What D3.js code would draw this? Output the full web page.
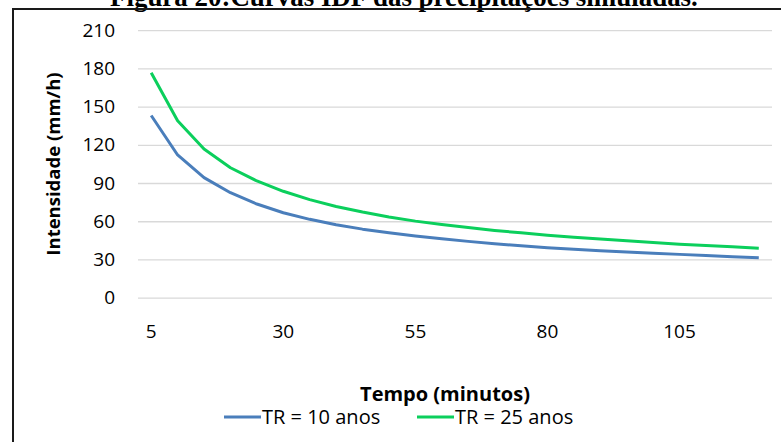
<!DOCTYPE html>
<html>
<head>
<meta charset="utf-8">
<script src="https://cdn.jsdelivr.net/npm/d3@7"></script>
<style>
  html, body { margin: 0; padding: 0; background: #fff; }
  svg { display: block; }
</style>
</head>
<body>
<svg id="chart" width="781" height="442"></svg>
<script>
// Duration categories (minutes)
const durations = [5, 10, 15, 20, 25, 30, 35, 40, 45, 50, 55, 60,
                   65, 70, 75, 80, 85, 90, 95, 100, 105, 110, 115, 120];
// Rainfall intensity (mm/h) for each return period
const tr10 = [143.0, 112.0, 94.2, 82.4, 73.5, 66.7, 61.5, 57.2, 53.8, 51.0, 48.4, 46.2,
              44.2, 42.3, 40.7, 39.2, 38.0, 36.9, 35.8, 34.9, 34.0, 33.2, 32.2, 31.3];
const tr25 = [176.6, 138.9, 116.7, 102.0, 91.6, 83.5, 77.0, 71.6, 67.2, 63.4, 60.1, 57.4,
              55.0, 52.8, 50.9, 49.0, 47.5, 46.0, 44.7, 43.4, 42.0, 40.9, 39.9, 38.8];
const yTicks = [0, 30, 60, 90, 120, 150, 180, 210];
const xTickLabels = [5, 30, 55, 80, 105];
const seriesNames = ["TR = 10 anos", "TR = 25 anos"];
const seriesColors = ["#4a7ebb", "#0bcf5c"];

const svg = d3.select("#chart");
const sansFont = "'Open Sans', Lato, sans-serif";

// Caption above the chart frame
const caption = svg.append("text")
  .attr("x", 110).attr("y", 6)
  .attr("font-family", "'Liberation Serif', 'Times New Roman', serif")
  .attr("font-weight", "bold")
  .attr("font-size", 20)
  .attr("fill", "#000")
  .text("Figura 20:Curvas IDF das precipitações simuladas.");
const capLen = caption.node().getComputedTextLength();
caption.attr("font-size", 20 * 588 / capLen);

// Chart frame
svg.append("rect")
  .attr("x", 13).attr("y", 9)
  .attr("width", 800).attr("height", 460)
  .attr("fill", "none")
  .attr("stroke", "#1a1a1a")
  .attr("stroke-width", 2);

const plot = { left: 138, right: 772, top: 30.1, bottom: 297.7 };

const x = d3.scaleBand()
  .domain(durations)
  .range([plot.left, plot.right])
  .paddingInner(0).paddingOuter(0);
const cx = d => x(d) + x.bandwidth() / 2;

const y = d3.scaleLinear()
  .domain([0, 210])
  .range([plot.bottom, plot.top]);

// Horizontal gridlines and value labels
const yAxis = svg.append("g")
  .attr("transform", `translate(${plot.left},0)`)
  .call(d3.axisLeft(y)
    .tickValues(yTicks)
    .tickSize(-(plot.right - plot.left))
    .tickPadding(23));
yAxis.select(".domain").remove();
yAxis.selectAll(".tick line")
  .attr("stroke", "#d9d9d9")
  .attr("stroke-width", 1.3);
yAxis.selectAll(".tick text")
  .attr("font-family", sansFont)
  .attr("font-size", 19)
  .attr("fill", "#000");

// Duration labels
const xAxis = svg.append("g")
  .attr("transform", `translate(0,${plot.bottom})`)
  .call(d3.axisBottom(x)
    .tickValues(xTickLabels)
    .tickSize(0)
    .tickPadding(27));
xAxis.select(".domain").remove();
xAxis.selectAll(".tick text")
  .attr("font-family", sansFont)
  .attr("font-size", 19)
  .attr("fill", "#000");

// Intensity curves
const line = d3.line()
  .x((d, i) => cx(durations[i]))
  .y(d => y(d));

[tr10, tr25].forEach((vals, k) => {
  svg.append("path")
    .datum(vals)
    .attr("d", line)
    .attr("fill", "none")
    .attr("stroke", seriesColors[k])
    .attr("stroke-width", 3)
    .attr("stroke-linejoin", "round");
});

// Axis titles
svg.append("text")
  .attr("transform", "translate(60,164) rotate(-90)")
  .attr("text-anchor", "middle")
  .attr("font-family", sansFont)
  .attr("font-weight", "bold")
  .attr("font-size", 18.5)
  .attr("fill", "#000")
  .text("Intensidade  (mm/h)");

svg.append("text")
  .attr("x", 445).attr("y", 401)
  .attr("text-anchor", "middle")
  .attr("font-family", sansFont)
  .attr("font-weight", "bold")
  .attr("font-size", 20)
  .attr("fill", "#000")
  .text("Tempo (minutos)");

// Legend
const legendX = [224, 417];
seriesNames.forEach((name, k) => {
  const g = svg.append("g").attr("transform", `translate(${legendX[k]},0)`);
  g.append("line")
    .attr("x1", 0).attr("x2", 37)
    .attr("y1", 417).attr("y2", 417)
    .attr("stroke", seriesColors[k])
    .attr("stroke-width", 3);
  g.append("text")
    .attr("x", 38).attr("y", 424)
    .attr("font-family", sansFont)
    .attr("font-size", 20)
    .attr("fill", "#000")
    .text(name);
});
</script>
</body>
</html>
